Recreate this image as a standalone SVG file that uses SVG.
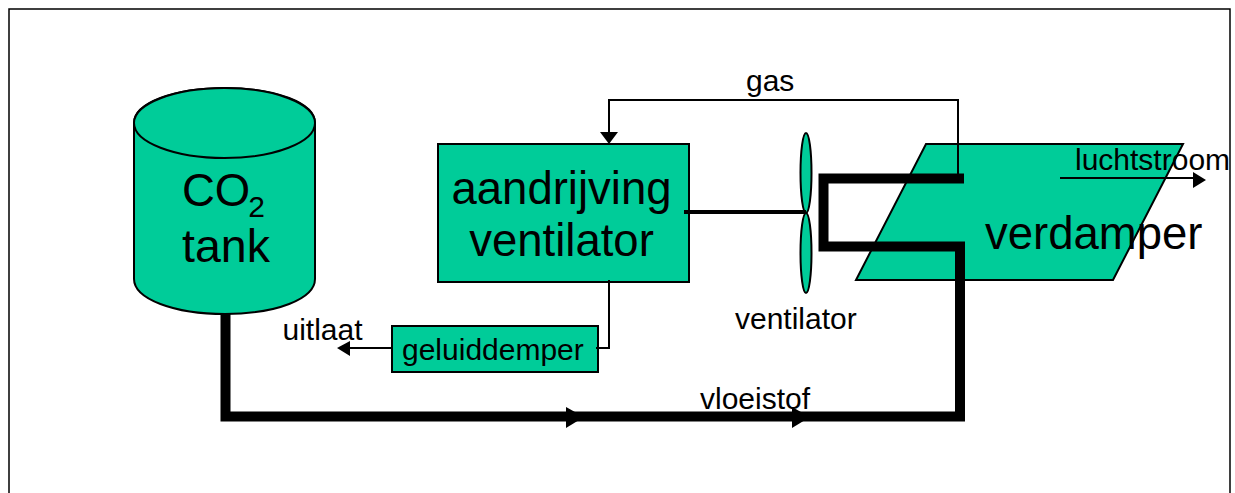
<svg xmlns="http://www.w3.org/2000/svg" width="1235" height="493" viewBox="0 0 1235 493">
<defs>
<style>
.s{fill:#00cc99;stroke:#000;stroke-width:2}
.t{font-family:"Liberation Sans",Arial,sans-serif;fill:#000}
.big{font-size:45.500px}
.small{font-size:30px}
.thin{fill:none;stroke:#000;stroke-width:2}
.thick{fill:none;stroke:#000;stroke-width:10;stroke-linejoin:miter}
</style>
</defs>
<rect width="1235" height="493" fill="#fff"/>
<path d="M9 493V9H1230V493" fill="none" stroke="#000" stroke-width="1.5"/>
<g id="tank">
<path class="s" d="M134 123C134 103 174 88 225 88C276 88 315 103 315 123V279C315 299 276 314 225 314C174 314 134 299 134 279Z"/>
<ellipse class="s" cx="224.500" cy="123" rx="90.500" ry="35"/>
<text class="t big" x="182" y="206">CO<tspan font-size="30" dy="11" dx="-2">2</tspan></text>
<text class="t" x="182" y="262" font-size="46.500">tank</text>
</g>
<g id="aandrijving">
<rect class="s" x="438" y="144" width="251" height="138"/>
<text class="t big" x="561.500" y="204" text-anchor="middle">aandrijving</text>
<text class="t big" x="561.500" y="256" text-anchor="middle">ventilator</text>
</g>
<g id="geluiddemper">
<rect class="s" x="392" y="326" width="206" height="46"/>
<text class="t small" x="402" y="360">geluiddemper</text>
</g>
<g id="ventilator">
<ellipse class="s" cx="806" cy="173" rx="5.500" ry="40"/>
<ellipse class="s" cx="806" cy="253" rx="5.500" ry="40"/>
<text class="t small" x="735" y="329">ventilator</text>
</g>
<g id="verdamper">
<path class="s" d="M926 144H1183L1113 280H856Z"/>
<text class="t big" x="985" y="249">verdamper</text>
</g>
<g id="connectors">
<path class="thin" d="M958 178V100H609V134"/>
<path d="M600 132H618L609 144Z" fill="#000"/>
<path class="thin" d="M609 280V348H596"/>
<path class="thin" d="M392 348H345"/>
<path d="M337 348L350 341V356Z" fill="#000"/>
<path d="M684 212H806" fill="none" stroke="#000" stroke-width="4"/>
<path class="thin" d="M1060 178H1195"/>
<path d="M1206 180L1193 172V188Z" fill="#000"/>
<path class="thick" d="M964 178.500H823.500V246.500H960V416.500H225.500V313"/>
<path d="M566 407L584 417L566 428Z" fill="#000"/>
<path d="M792 407L810 417L792 428Z" fill="#000"/>
</g>
<g id="labels">
<text class="t small" x="746" y="91">gas</text>
<text class="t small" x="1075" y="170">luchtstroom</text>
<text class="t small" x="282.500" y="340">uitlaat</text>
<text class="t small" x="700" y="409">vloeistof</text>
</g>
</svg>
